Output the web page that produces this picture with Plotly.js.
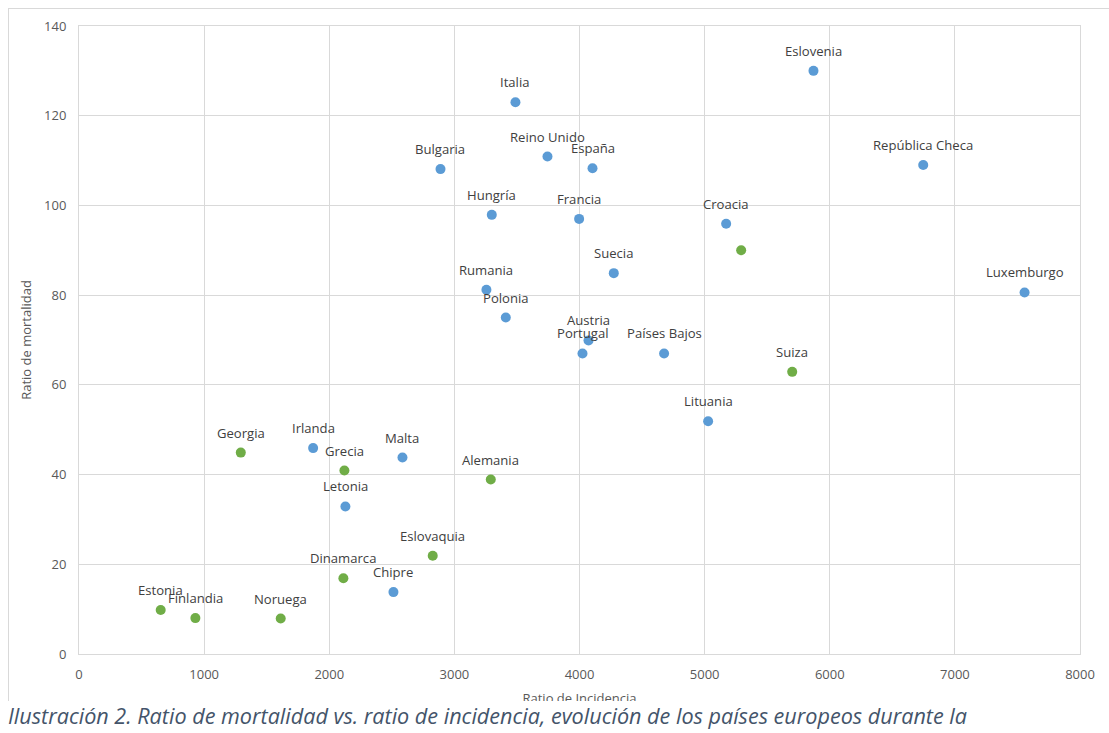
<!DOCTYPE html>
<html>
<head>
<meta charset="utf-8">
<script src="https://cdn.plot.ly/plotly-3.0.1.min.js"></script>
<style>
  html, body { margin: 0; padding: 0; width: 1109px; height: 733px; overflow: hidden; background: #fff; }
  #frame { position: absolute; left: 8px; top: 8px; width: 1110px; height: 692px; border-left: 1px solid #d9d9d9; border-top: 1px solid #d9d9d9; overflow: hidden; }
  #plot { position: absolute; left: 0; top: 0; width: 1101px; height: 720px; }
  #caption { position: absolute; left: 8px; top: 705px; line-height: 22px; font-family: "Open Sans", sans-serif; font-style: italic; font-size: 21.6px; color: #44546a; white-space: nowrap; }
</style>
</head>
<body>
<div id="frame"><div id="plot"></div></div>
<div id="caption">Ilustración 2. Ratio de mortalidad vs. ratio de incidencia, evolución de los países europeos durante la</div>
<script>
// Blue series
const blueNames = ["Italia", "Bulgaria", "Reino Unido", "España", "Hungría", "Francia", "Croacia", "Eslovenia", "República Checa", "Luxemburgo", "Suecia", "Rumania", "Polonia", "Austria", "Portugal", "Países Bajos", "Lituania", "Malta", "Chipre", "Irlanda", "Letonia"];
const blueX = [3488, 2889, 3744, 4104, 3299, 3997, 5172, 5870, 6747, 7557, 4274, 3256, 3411, 4072, 4024, 4676, 5028, 2585, 2513, 1871, 2129];
const blueY = [123, 108.1, 110.9, 108.3, 97.9, 97, 95.9, 130, 109, 80.6, 84.9, 81.2, 75, 69.9, 67, 67, 51.9, 43.8, 13.8, 45.9, 32.9];

// Green series
const greenNames = ["Georgia", "Grecia", "Dinamarca", "Estonia", "Finlandia", "Noruega", "Alemania", "Eslovaquia", "", "Suiza"];
const greenX = [1293, 2121, 2113, 653, 930, 1612, 3291, 2827, 5292, 5700];
const greenY = [44.9, 40.9, 16.9, 9.8, 8.0, 7.9, 38.9, 21.9, 90.0, 62.9];

const xTicks = [0, 1000, 2000, 3000, 4000, 5000, 6000, 7000, 8000];
const yTicks = [0, 20, 40, 60, 80, 100, 120, 140];

const labelFont = { family: "Open Sans, sans-serif", size: 13.1, color: "#404040" };

function labels(names, xs, ys) {
  const out = [];
  names.forEach((n, i) => {
    if (!n) return;
    out.push({ x: xs[i], y: ys[i], text: n, showarrow: false, yshift: 20, font: labelFont, xanchor: "center", yanchor: "middle" });
  });
  return out;
}

const traces = [
  { type: "scatter", mode: "markers", x: blueX, y: blueY, text: blueNames, marker: { color: "#5b9bd5", size: 10 }, hoverinfo: "text+x+y", cliponaxis: false },
  { type: "scatter", mode: "markers", x: greenX, y: greenY, text: greenNames, marker: { color: "#70ad47", size: 10 }, hoverinfo: "text+x+y", cliponaxis: false }
];

const tickFont = { family: "Open Sans, sans-serif", size: 13, color: "#595959" };

const layout = {
  width: 1101, height: 720,
  margin: { l: 70.3, r: 30, t: 17.3, b: 74.7 },
  paper_bgcolor: "rgba(0,0,0,0)", plot_bgcolor: "#fff",
  showlegend: false,
  xaxis: {
    range: [0, 8000], tickvals: xTicks, ticktext: xTicks.map(String),
    showgrid: true, gridcolor: "#d9d9d9", gridwidth: 1,
    zeroline: false, showline: true, linecolor: "#d9d9d9", linewidth: 1, mirror: true,
    ticks: "outside", ticklen: 8, tickcolor: "rgba(0,0,0,0)",
    tickfont: tickFont,
    title: { text: "Ratio de Incidencia", font: { family: "Open Sans, sans-serif", size: 13, color: "#595959" }, standoff: 12 }
  },
  yaxis: {
    range: [0, 140], tickvals: yTicks, ticktext: yTicks.map(String),
    showgrid: true, gridcolor: "#d9d9d9", gridwidth: 1,
    zeroline: false, showline: true, linecolor: "#d9d9d9", linewidth: 1, mirror: true,
    ticks: "outside", ticklen: 9, tickcolor: "rgba(0,0,0,0)",
    tickfont: tickFont,
    title: { text: "Ratio de mortalidad", font: { family: "Open Sans, sans-serif", size: 13, color: "#595959" }, standoff: 9 }
  },
  annotations: labels(blueNames, blueX, blueY).concat(labels(greenNames, greenX, greenY))
};

Plotly.newPlot("plot", traces, layout, { displayModeBar: false, staticPlot: true });
</script>
</body>
</html>
